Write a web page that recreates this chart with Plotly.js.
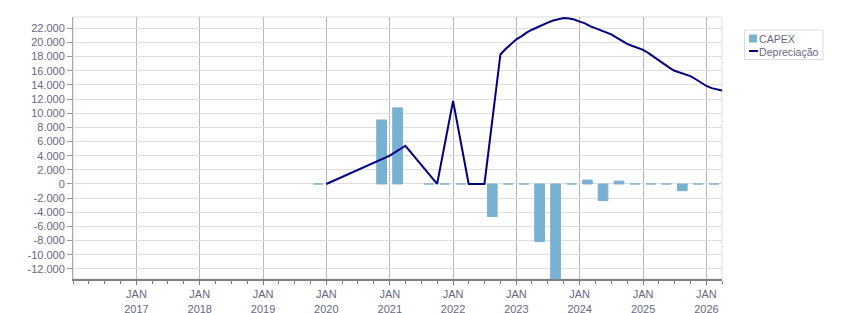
<!DOCTYPE html>
<html><head><meta charset="utf-8">
<script src="https://cdn.plot.ly/plotly-3.0.1.min.js"></script>
<style>html,body{margin:0;padding:0;background:#fff}#chart{width:851px;height:313px}</style>
</head><body><div id="chart"></div>
<script>
// ---- data ----
const capexQuarters = ['2019-Q4','2020-Q4','2021-Q1','2021-Q3','2021-Q4','2022-Q1','2022-Q3','2022-Q4','2023-Q1','2023-Q2','2023-Q3','2023-Q4','2024-Q1','2024-Q2','2024-Q3','2024-Q4','2025-Q1','2025-Q2','2025-Q3','2025-Q4','2026-Q1'];
const capexValues = [0, 9050, 10750, 0, 0, 0, -4600, 0, 0, -8150, -14000, 0, 550, -2350, 400, 0, 0, 0, -950, 0, 0];

const deprDates = ['2020-01-01','2021-01-01','2021-04-01','2021-10-01','2022-01-01','2022-04-01','2022-07-01',
  '2022-10-01','2022-11-01','2022-12-01',
  '2023-01-01','2023-02-01','2023-03-01','2023-04-01','2023-05-01','2023-06-01','2023-07-01','2023-08-01','2023-09-01','2023-10-01','2023-11-01','2023-12-01',
  '2024-01-01','2024-02-01','2024-03-01','2024-04-01','2024-05-01','2024-06-01','2024-07-01','2024-08-01','2024-09-01','2024-10-01','2024-11-01','2024-12-01',
  '2025-01-01','2025-02-01','2025-03-01','2025-04-01','2025-05-01','2025-06-01','2025-07-01','2025-08-01','2025-09-01','2025-10-01','2025-11-01','2025-12-01',
  '2026-01-01','2026-02-01','2026-03-01','2026-04-01'];
const deprValues = [0, 4000, 5400, 0, 11750, 0, 0,
  18300, 19100, 19800,
  20450, 20900, 21400, 21800, 22150, 22550, 22800, 23100, 23300, 23450, 23400, 23250,
  22950, 22700, 22300, 22000, 21700, 21400, 21150, 20700, 20200, 19800, 19500, 19200,
  18950, 18500, 18000, 17500, 17000, 16450, 16000, 15750, 15550, 15250, 14800, 14300,
  13850, 13550, 13400, 13200];

const yearTicks = [2017, 2018, 2019, 2020, 2021, 2022, 2023, 2024, 2025, 2026];
const yTicks = [-12000,-10000,-8000,-6000,-4000,-2000,0,2000,4000,6000,8000,10000,12000,14000,16000,18000,20000,22000];

// ---- helpers ----
function quarterMid(q){
  const parts = q.split('-Q').map(Number);
  const m = 3*(parts[1]-1) + 2;
  return parts[0] + '-' + String(m).padStart(2,'0') + '-15';
}
function fmt(v){
  const s = String(Math.abs(v)).replace(/\B(?=(\d{3})+(?!\d))/g, '.');
  return (v < 0 ? '-' : '') + s;
}

const FONT = 'Liberation Sans, Arial, sans-serif';
const TXT = '#68687f';
const BAR = '#79b1d3';
const LINE = '#000080';
const DAY = 86400000;

const traces = [
  {
    type: 'bar', name: 'CAPEX',
    x: capexQuarters.map(quarterMid), y: capexValues,
    width: 56*DAY,
    marker: {color: BAR, line: {color: BAR, width: 1}},
    hoverinfo: 'skip'
  },
  {
    type: 'scatter', mode: 'lines', name: 'Depreciação',
    x: deprDates, y: deprValues,
    line: {color: LINE, width: 2},
    hoverinfo: 'skip'
  }
];

// plot area geometry in px (for the hand-drawn legend)
const L = 73, R = 851-129, T = 17, B = 313-34;
const px = x => (x - L) / (R - L);
const py = y => (B - y) / (B - T);

const layout = {
  width: 851, height: 313,
  margin: {l: L, r: 851-R, t: T, b: 313-B, pad: 0},
  paper_bgcolor: '#fff', plot_bgcolor: '#fff',
  showlegend: false,
  bargap: 0,
  font: {family: FONT, size: 11, color: TXT},
  xaxis: {
    type: 'date',
    range: ['2016-01-01', '2026-04-01'],
    tickmode: 'array',
    tickvals: yearTicks.map(y => y + '-01-01'),
    ticktext: yearTicks.map(y => 'JAN<br>' + y),
    ticks: 'outside', ticklen: 4, tickcolor: '#7a7a7a', tickwidth: 1,
    showgrid: true, gridcolor: '#b9b9b9', gridwidth: 1,
    showline: true, linecolor: '#808080', linewidth: 2,
    zeroline: false,
    tickfont: {family: FONT, size: 11, color: TXT},
    minor: {tick0: '2016-01-01', dtick: 'M3', ticks: 'outside', ticklen: 3, tickcolor: '#7a7a7a', showgrid: false}
  },
  yaxis: {
    range: [-13430, 23600],
    tickmode: 'array',
    tickvals: yTicks,
    ticktext: yTicks.map(fmt),
    ticks: 'outside', ticklen: 5, tickcolor: '#9a9a9a',
    showgrid: true, gridcolor: '#dedede', gridwidth: 1,
    showline: true, linecolor: '#a8a8a8', linewidth: 1,
    zeroline: false,
    tickfont: {family: FONT, size: 11, color: TXT}
  },
  shapes: [
    {type: 'rect', xref: 'paper', yref: 'paper', x0: 0, x1: 1, y0: 0, y1: 1, line: {color: '#dcdcdc', width: 1}, layer: 'below'},
    // legend box
    {type: 'rect', xref: 'paper', yref: 'paper', x0: px(744.5), x1: px(823), y0: py(59.5), y1: py(30), line: {color: '#dcdcdc', width: 1}, fillcolor: '#fff'},
    {type: 'rect', xref: 'paper', yref: 'paper', x0: px(749), x1: px(757), y0: py(42.5), y1: py(34.5), line: {width: 0}, fillcolor: BAR},
    {type: 'line', xref: 'paper', yref: 'paper', x0: px(749), x1: px(758), y0: py(51), y1: py(51), line: {color: LINE, width: 2}}
  ],
  annotations: [
    {xref: 'paper', yref: 'paper', x: px(757), y: py(38.5), xanchor: 'left', yanchor: 'middle', text: 'CAPEX', showarrow: false, font: {family: FONT, size: 10.6, color: TXT}},
    {xref: 'paper', yref: 'paper', x: px(757), y: py(52), xanchor: 'left', yanchor: 'middle', text: 'Depreciação', showarrow: false, font: {family: FONT, size: 10.6, color: TXT}}
  ]
};

Plotly.newPlot('chart', traces, layout, {staticPlot: true, displayModeBar: false});
</script>
</body></html>
